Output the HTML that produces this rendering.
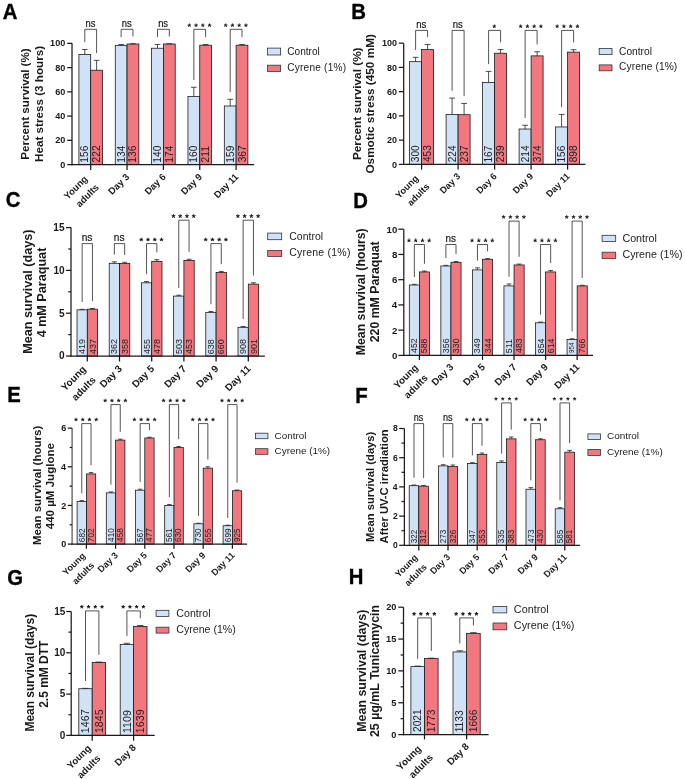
<!DOCTYPE html>
<html><head><meta charset="utf-8"><style>
html,body{margin:0;padding:0;background:#fff;overflow:hidden;}
svg{display:block;will-change:transform;}
text{font-family:"Liberation Sans", sans-serif;}
</style></head><body>
<svg width="685" height="779" viewBox="0 0 685 779">
<rect width="685" height="779" fill="#fff"/>
<defs><path id="st" fill="#111" d="M0.0447,-0.0522 0.1594,-0.1030 0.1926,-0.0068 0.0706,0.0229 0.1614,0.1270 0.0715,0.1860 0.0002,0.0630 -0.0725,0.1860 -0.1633,0.1260 -0.0706,0.0229 -0.1926,-0.0068 -0.1594,-0.1030 -0.0427,-0.0522 -0.0515,-0.1860 0.0535,-0.1860Z"/></defs>
<g>
<text x="0" y="0" font-size="20.3" font-weight="bold" fill="#000" stroke="#000" stroke-width="0.35" transform="translate(2.84 18.7) scale(1 1.065)">A</text>
<rect x="78.9" y="54.42" width="11.8" height="110.18" fill="#cfe2f6" stroke="#111" stroke-width="0.75"/>
<rect x="90.7" y="70.19" width="11.8" height="94.41" fill="#f2777f" stroke="#111" stroke-width="0.75"/>
<line x1="84.8" y1="54.42" x2="84.8" y2="49.56" stroke="#222" stroke-width="0.8"/>
<line x1="81.97" y1="49.56" x2="87.63" y2="49.56" stroke="#222" stroke-width="0.8"/>
<line x1="96.6" y1="70.19" x2="96.6" y2="60.36" stroke="#222" stroke-width="0.8"/>
<line x1="93.77" y1="60.36" x2="99.43" y2="60.36" stroke="#222" stroke-width="0.8"/>
<rect x="115.25" y="45.44" width="11.8" height="119.16" fill="#cfe2f6" stroke="#111" stroke-width="0.75"/>
<rect x="127.05" y="43.99" width="11.8" height="120.61" fill="#f2777f" stroke="#111" stroke-width="0.75"/>
<line x1="121.15" y1="45.44" x2="121.15" y2="44.47" stroke="#222" stroke-width="0.8"/>
<line x1="118.32" y1="44.47" x2="123.98" y2="44.47" stroke="#222" stroke-width="0.8"/>
<line x1="132.95" y1="43.99" x2="132.95" y2="43.74" stroke="#222" stroke-width="0.8"/>
<line x1="130.12" y1="43.74" x2="135.78" y2="43.74" stroke="#222" stroke-width="0.8"/>
<rect x="151.6" y="48.23" width="11.8" height="116.37" fill="#cfe2f6" stroke="#111" stroke-width="0.75"/>
<rect x="163.4" y="43.99" width="11.8" height="120.61" fill="#f2777f" stroke="#111" stroke-width="0.75"/>
<line x1="157.5" y1="48.23" x2="157.5" y2="44.47" stroke="#222" stroke-width="0.8"/>
<line x1="154.67" y1="44.47" x2="160.33" y2="44.47" stroke="#222" stroke-width="0.8"/>
<line x1="169.3" y1="43.99" x2="169.3" y2="43.74" stroke="#222" stroke-width="0.8"/>
<line x1="166.47" y1="43.74" x2="172.13" y2="43.74" stroke="#222" stroke-width="0.8"/>
<rect x="187.95" y="96.39" width="11.8" height="68.21" fill="#cfe2f6" stroke="#111" stroke-width="0.75"/>
<rect x="199.75" y="45.2" width="11.8" height="119.4" fill="#f2777f" stroke="#111" stroke-width="0.75"/>
<line x1="193.85" y1="96.39" x2="193.85" y2="87.29" stroke="#222" stroke-width="0.8"/>
<line x1="191.02" y1="87.29" x2="196.68" y2="87.29" stroke="#222" stroke-width="0.8"/>
<line x1="205.65" y1="45.2" x2="205.65" y2="44.47" stroke="#222" stroke-width="0.8"/>
<line x1="202.82" y1="44.47" x2="208.48" y2="44.47" stroke="#222" stroke-width="0.8"/>
<rect x="224.3" y="105.97" width="11.8" height="58.63" fill="#cfe2f6" stroke="#111" stroke-width="0.75"/>
<rect x="236.1" y="45.2" width="11.8" height="119.4" fill="#f2777f" stroke="#111" stroke-width="0.75"/>
<line x1="230.2" y1="105.97" x2="230.2" y2="99.3" stroke="#222" stroke-width="0.8"/>
<line x1="227.37" y1="99.3" x2="233.03" y2="99.3" stroke="#222" stroke-width="0.8"/>
<line x1="242" y1="45.2" x2="242" y2="44.47" stroke="#222" stroke-width="0.8"/>
<line x1="239.17" y1="44.47" x2="244.83" y2="44.47" stroke="#222" stroke-width="0.8"/>
<text x="88.31" y="162.68" font-size="10.2" fill="#222" transform="rotate(-90 88.31 162.68)">156</text>
<text x="100.16" y="162.41" font-size="10.2" fill="#222" transform="rotate(-90 100.16 162.41)">222</text>
<text x="124.66" y="162.68" font-size="10.2" fill="#222" transform="rotate(-90 124.66 162.68)">134</text>
<text x="136.46" y="162.68" font-size="10.2" fill="#222" transform="rotate(-90 136.46 162.68)">136</text>
<text x="161.01" y="162.68" font-size="10.2" fill="#222" transform="rotate(-90 161.01 162.68)">140</text>
<text x="172.81" y="162.68" font-size="10.2" fill="#222" transform="rotate(-90 172.81 162.68)">174</text>
<text x="197.36" y="162.68" font-size="10.2" fill="#222" transform="rotate(-90 197.36 162.68)">160</text>
<text x="209.21" y="162.41" font-size="10.2" fill="#222" transform="rotate(-90 209.21 162.41)">211</text>
<text x="233.71" y="162.68" font-size="10.2" fill="#222" transform="rotate(-90 233.71 162.68)">159</text>
<text x="245.51" y="162.29" font-size="10.2" fill="#222" transform="rotate(-90 245.51 162.29)">367</text>
<line x1="72" y1="43.35" x2="72" y2="165.22" stroke="#1a1a1a" stroke-width="1.25"/>
<line x1="71.38" y1="164.6" x2="254.2" y2="164.6" stroke="#1a1a1a" stroke-width="1.25"/>
<line x1="67.2" y1="164.6" x2="72" y2="164.6" stroke="#1a1a1a" stroke-width="1.25"/>
<text x="65.27" y="167.73" font-size="9.1" font-weight="bold" text-anchor="end" fill="#1a1a1a">0</text>
<line x1="67.2" y1="140.35" x2="72" y2="140.35" stroke="#1a1a1a" stroke-width="1.25"/>
<text x="65.27" y="143.48" font-size="9.1" font-weight="bold" text-anchor="end" fill="#1a1a1a">20</text>
<line x1="67.2" y1="116.1" x2="72" y2="116.1" stroke="#1a1a1a" stroke-width="1.25"/>
<text x="65.27" y="119.23" font-size="9.1" font-weight="bold" text-anchor="end" fill="#1a1a1a">40</text>
<line x1="67.2" y1="91.85" x2="72" y2="91.85" stroke="#1a1a1a" stroke-width="1.25"/>
<text x="65.27" y="94.98" font-size="9.1" font-weight="bold" text-anchor="end" fill="#1a1a1a">60</text>
<line x1="67.2" y1="67.6" x2="72" y2="67.6" stroke="#1a1a1a" stroke-width="1.25"/>
<text x="65.27" y="70.73" font-size="9.1" font-weight="bold" text-anchor="end" fill="#1a1a1a">80</text>
<line x1="67.2" y1="43.35" x2="72" y2="43.35" stroke="#1a1a1a" stroke-width="1.25"/>
<text x="65.27" y="46.48" font-size="9.1" font-weight="bold" text-anchor="end" fill="#1a1a1a">100</text>
<line x1="90.7" y1="164.6" x2="90.7" y2="169.9" stroke="#1a1a1a" stroke-width="1.25"/>
<text x="88.1" y="179.6" font-size="9.5" font-weight="bold" text-anchor="end" fill="#1a1a1a" transform="rotate(-45 88.1 179.6)">Young</text>
<text x="99.5" y="187.9" font-size="9.5" font-weight="bold" text-anchor="end" fill="#1a1a1a" transform="rotate(-45 99.5 187.9)">adults</text>
<line x1="127.05" y1="164.6" x2="127.05" y2="169.9" stroke="#1a1a1a" stroke-width="1.25"/>
<text x="130.05" y="177.4" font-size="9.5" font-weight="bold" text-anchor="end" fill="#1a1a1a" transform="rotate(-45 130.05 177.4)">Day 3</text>
<line x1="163.4" y1="164.6" x2="163.4" y2="169.9" stroke="#1a1a1a" stroke-width="1.25"/>
<text x="166.4" y="177.4" font-size="9.5" font-weight="bold" text-anchor="end" fill="#1a1a1a" transform="rotate(-45 166.4 177.4)">Day 6</text>
<line x1="199.75" y1="164.6" x2="199.75" y2="169.9" stroke="#1a1a1a" stroke-width="1.25"/>
<text x="202.75" y="177.4" font-size="9.5" font-weight="bold" text-anchor="end" fill="#1a1a1a" transform="rotate(-45 202.75 177.4)">Day 9</text>
<line x1="236.1" y1="164.6" x2="236.1" y2="169.9" stroke="#1a1a1a" stroke-width="1.25"/>
<text x="239.1" y="177.4" font-size="9.5" font-weight="bold" text-anchor="end" fill="#1a1a1a" transform="rotate(-45 239.1 177.4)">Day 11</text>
<polyline points="84.8,42.26 84.8,29.3 96.6,29.3 96.6,53.06" fill="none" stroke="#2a2a2a" stroke-width="0.8"/>
<text x="0" y="0" font-size="9.4" text-anchor="middle" fill="#111" stroke="#111" stroke-width="0.15" transform="translate(90.4 27.1) scale(1 1.15)">ns</text>
<polyline points="121.15,37.17 121.15,29.3 132.95,29.3 132.95,36.44" fill="none" stroke="#2a2a2a" stroke-width="0.8"/>
<text x="0" y="0" font-size="9.4" text-anchor="middle" fill="#111" stroke="#111" stroke-width="0.15" transform="translate(126.75 27.1) scale(1 1.15)">ns</text>
<polyline points="157.5,37.17 157.5,29.3 169.3,29.3 169.3,36.44" fill="none" stroke="#2a2a2a" stroke-width="0.8"/>
<text x="0" y="0" font-size="9.4" text-anchor="middle" fill="#111" stroke="#111" stroke-width="0.15" transform="translate(163.1 27.1) scale(1 1.15)">ns</text>
<polyline points="193.85,79.99 193.85,29.3 205.65,29.3 205.65,37.17" fill="none" stroke="#2a2a2a" stroke-width="0.8"/>
<use href="#st" transform="translate(189.32 25.2) scale(9.3)"/>
<use href="#st" transform="translate(196.07 25.2) scale(9.3)"/>
<use href="#st" transform="translate(202.82 25.2) scale(9.3)"/>
<use href="#st" transform="translate(209.57 25.2) scale(9.3)"/>
<polyline points="230.2,92 230.2,29.3 242,29.3 242,37.17" fill="none" stroke="#2a2a2a" stroke-width="0.8"/>
<use href="#st" transform="translate(225.68 25.2) scale(9.3)"/>
<use href="#st" transform="translate(232.43 25.2) scale(9.3)"/>
<use href="#st" transform="translate(239.18 25.2) scale(9.3)"/>
<use href="#st" transform="translate(245.93 25.2) scale(9.3)"/>
<text x="0" y="0" font-size="11.66" font-weight="bold" fill="#1a1a1a" transform="translate(29.36 159.68) rotate(-90)">Percent survival (%)</text>
<text x="0" y="0" font-size="11.66" font-weight="bold" fill="#1a1a1a" transform="translate(43.46 161.9) rotate(-90)">Heat stress (3 hours)</text>
<rect x="267.5" y="48.1" width="13.1" height="6.9" fill="#cfe2f6" stroke="#333" stroke-width="0.8"/>
<text x="287.29" y="55" font-size="10.1" fill="#222">Control</text>
<rect x="267.5" y="65.2" width="13.1" height="6.3" fill="#f2777f" stroke="#333" stroke-width="0.8"/>
<text x="287.29" y="71" font-size="10.1" fill="#222" letter-spacing="0.21">Cyrene (1%)</text>
</g>
<g>
<text x="0" y="0" font-size="20.3" font-weight="bold" fill="#000" stroke="#000" stroke-width="0.35" transform="translate(351.14 18.95) scale(1 1.065)">B</text>
<rect x="409.6" y="61.7" width="12" height="102.7" fill="#cfe2f6" stroke="#111" stroke-width="0.75"/>
<rect x="421.6" y="49.56" width="12" height="114.84" fill="#f2777f" stroke="#111" stroke-width="0.75"/>
<line x1="415.6" y1="61.7" x2="415.6" y2="57.33" stroke="#222" stroke-width="0.8"/>
<line x1="412.72" y1="57.33" x2="418.48" y2="57.33" stroke="#222" stroke-width="0.8"/>
<line x1="427.6" y1="49.56" x2="427.6" y2="44.47" stroke="#222" stroke-width="0.8"/>
<line x1="424.72" y1="44.47" x2="430.48" y2="44.47" stroke="#222" stroke-width="0.8"/>
<rect x="446.1" y="114.46" width="12" height="49.94" fill="#cfe2f6" stroke="#111" stroke-width="0.75"/>
<rect x="458.1" y="114.7" width="12" height="49.7" fill="#f2777f" stroke="#111" stroke-width="0.75"/>
<line x1="452.1" y1="114.46" x2="452.1" y2="98.09" stroke="#222" stroke-width="0.8"/>
<line x1="449.22" y1="98.09" x2="454.98" y2="98.09" stroke="#222" stroke-width="0.8"/>
<line x1="464.1" y1="114.7" x2="464.1" y2="103.42" stroke="#222" stroke-width="0.8"/>
<line x1="461.22" y1="103.42" x2="466.98" y2="103.42" stroke="#222" stroke-width="0.8"/>
<rect x="482.6" y="82.44" width="12" height="81.96" fill="#cfe2f6" stroke="#111" stroke-width="0.75"/>
<rect x="494.6" y="53.2" width="12" height="111.2" fill="#f2777f" stroke="#111" stroke-width="0.75"/>
<line x1="488.6" y1="82.44" x2="488.6" y2="71.4" stroke="#222" stroke-width="0.8"/>
<line x1="485.72" y1="71.4" x2="491.48" y2="71.4" stroke="#222" stroke-width="0.8"/>
<line x1="500.6" y1="53.2" x2="500.6" y2="49.56" stroke="#222" stroke-width="0.8"/>
<line x1="497.72" y1="49.56" x2="503.48" y2="49.56" stroke="#222" stroke-width="0.8"/>
<rect x="519.1" y="129.02" width="12" height="35.38" fill="#cfe2f6" stroke="#111" stroke-width="0.75"/>
<rect x="531.1" y="55.87" width="12" height="108.53" fill="#f2777f" stroke="#111" stroke-width="0.75"/>
<line x1="525.1" y1="129.02" x2="525.1" y2="125.26" stroke="#222" stroke-width="0.8"/>
<line x1="522.22" y1="125.26" x2="527.98" y2="125.26" stroke="#222" stroke-width="0.8"/>
<line x1="537.1" y1="55.87" x2="537.1" y2="51.75" stroke="#222" stroke-width="0.8"/>
<line x1="534.22" y1="51.75" x2="539.98" y2="51.75" stroke="#222" stroke-width="0.8"/>
<rect x="555.6" y="126.95" width="12" height="37.45" fill="#cfe2f6" stroke="#111" stroke-width="0.75"/>
<rect x="567.6" y="52.11" width="12" height="112.29" fill="#f2777f" stroke="#111" stroke-width="0.75"/>
<line x1="561.6" y1="126.95" x2="561.6" y2="114.46" stroke="#222" stroke-width="0.8"/>
<line x1="558.72" y1="114.46" x2="564.48" y2="114.46" stroke="#222" stroke-width="0.8"/>
<line x1="573.6" y1="52.11" x2="573.6" y2="49.69" stroke="#222" stroke-width="0.8"/>
<line x1="570.72" y1="49.69" x2="576.48" y2="49.69" stroke="#222" stroke-width="0.8"/>
<text x="419.08" y="162.18" font-size="10.1" fill="#222" transform="rotate(-90 419.08 162.18)">300</text>
<text x="431.08" y="162.03" font-size="10.1" fill="#222" transform="rotate(-90 431.08 162.03)">453</text>
<text x="455.63" y="162.31" font-size="10.1" fill="#222" transform="rotate(-90 455.63 162.31)">224</text>
<text x="467.58" y="162.31" font-size="10.1" fill="#222" transform="rotate(-90 467.58 162.31)">237</text>
<text x="492.08" y="162.57" font-size="10.1" fill="#222" transform="rotate(-90 492.08 162.57)">167</text>
<text x="504.08" y="162.31" font-size="10.1" fill="#222" transform="rotate(-90 504.08 162.31)">239</text>
<text x="528.63" y="162.31" font-size="10.1" fill="#222" transform="rotate(-90 528.63 162.31)">214</text>
<text x="540.58" y="162.18" font-size="10.1" fill="#222" transform="rotate(-90 540.58 162.18)">374</text>
<text x="565.08" y="162.57" font-size="10.1" fill="#222" transform="rotate(-90 565.08 162.57)">156</text>
<text x="577.08" y="162.24" font-size="10.1" fill="#222" transform="rotate(-90 577.08 162.24)">898</text>
<line x1="403.7" y1="43.15" x2="403.7" y2="165.03" stroke="#1a1a1a" stroke-width="1.25"/>
<line x1="403.07" y1="164.4" x2="585.5" y2="164.4" stroke="#1a1a1a" stroke-width="1.25"/>
<line x1="398.9" y1="164.4" x2="403.7" y2="164.4" stroke="#1a1a1a" stroke-width="1.25"/>
<text x="397.07" y="167.5" font-size="9" font-weight="bold" text-anchor="end" fill="#1a1a1a">0</text>
<line x1="398.9" y1="140.15" x2="403.7" y2="140.15" stroke="#1a1a1a" stroke-width="1.25"/>
<text x="397.07" y="143.25" font-size="9" font-weight="bold" text-anchor="end" fill="#1a1a1a">20</text>
<line x1="398.9" y1="115.9" x2="403.7" y2="115.9" stroke="#1a1a1a" stroke-width="1.25"/>
<text x="397.07" y="119" font-size="9" font-weight="bold" text-anchor="end" fill="#1a1a1a">40</text>
<line x1="398.9" y1="91.65" x2="403.7" y2="91.65" stroke="#1a1a1a" stroke-width="1.25"/>
<text x="397.07" y="94.75" font-size="9" font-weight="bold" text-anchor="end" fill="#1a1a1a">60</text>
<line x1="398.9" y1="67.4" x2="403.7" y2="67.4" stroke="#1a1a1a" stroke-width="1.25"/>
<text x="397.07" y="70.5" font-size="9" font-weight="bold" text-anchor="end" fill="#1a1a1a">80</text>
<line x1="398.9" y1="43.15" x2="403.7" y2="43.15" stroke="#1a1a1a" stroke-width="1.25"/>
<text x="397.07" y="46.25" font-size="9" font-weight="bold" text-anchor="end" fill="#1a1a1a">100</text>
<line x1="421.6" y1="164.4" x2="421.6" y2="169.6" stroke="#1a1a1a" stroke-width="1.25"/>
<text x="419.07" y="179.04" font-size="9.25" font-weight="bold" text-anchor="end" fill="#1a1a1a" transform="rotate(-45 419.07 179.04)">Young</text>
<text x="430.17" y="187.13" font-size="9.25" font-weight="bold" text-anchor="end" fill="#1a1a1a" transform="rotate(-45 430.17 187.13)">adults</text>
<line x1="458.1" y1="164.4" x2="458.1" y2="169.6" stroke="#1a1a1a" stroke-width="1.25"/>
<text x="461.02" y="176.9" font-size="9.25" font-weight="bold" text-anchor="end" fill="#1a1a1a" transform="rotate(-45 461.02 176.9)">Day 3</text>
<line x1="494.6" y1="164.4" x2="494.6" y2="169.6" stroke="#1a1a1a" stroke-width="1.25"/>
<text x="497.52" y="176.9" font-size="9.25" font-weight="bold" text-anchor="end" fill="#1a1a1a" transform="rotate(-45 497.52 176.9)">Day 6</text>
<line x1="531.1" y1="164.4" x2="531.1" y2="169.6" stroke="#1a1a1a" stroke-width="1.25"/>
<text x="534.02" y="176.9" font-size="9.25" font-weight="bold" text-anchor="end" fill="#1a1a1a" transform="rotate(-45 534.02 176.9)">Day 9</text>
<line x1="567.6" y1="164.4" x2="567.6" y2="169.6" stroke="#1a1a1a" stroke-width="1.25"/>
<text x="570.52" y="176.9" font-size="9.25" font-weight="bold" text-anchor="end" fill="#1a1a1a" transform="rotate(-45 570.52 176.9)">Day 11</text>
<polyline points="415.6,50.03 415.6,30.4 427.6,30.4 427.6,37.17" fill="none" stroke="#2a2a2a" stroke-width="0.8"/>
<text x="0" y="0" font-size="9.5" text-anchor="middle" fill="#111" stroke="#111" stroke-width="0.15" transform="translate(421.3 28.2) scale(1 1.15)">ns</text>
<polyline points="452.1,90.79 452.1,30.4 464.1,30.4 464.1,96.12" fill="none" stroke="#2a2a2a" stroke-width="0.8"/>
<text x="0" y="0" font-size="9.5" text-anchor="middle" fill="#111" stroke="#111" stroke-width="0.15" transform="translate(457.8 28.2) scale(1 1.15)">ns</text>
<polyline points="488.6,64.1 488.6,30.4 500.6,30.4 500.6,42.27" fill="none" stroke="#2a2a2a" stroke-width="0.8"/>
<use href="#st" transform="translate(494.3 26.3) scale(9.4)"/>
<polyline points="525.1,117.96 525.1,30.4 537.1,30.4 537.1,44.45" fill="none" stroke="#2a2a2a" stroke-width="0.8"/>
<use href="#st" transform="translate(520.68 26.3) scale(9.4)"/>
<use href="#st" transform="translate(527.43 26.3) scale(9.4)"/>
<use href="#st" transform="translate(534.18 26.3) scale(9.4)"/>
<use href="#st" transform="translate(540.93 26.3) scale(9.4)"/>
<polyline points="561.6,107.16 561.6,30.4 573.6,30.4 573.6,42.39" fill="none" stroke="#2a2a2a" stroke-width="0.8"/>
<use href="#st" transform="translate(557.18 26.3) scale(9.4)"/>
<use href="#st" transform="translate(563.93 26.3) scale(9.4)"/>
<use href="#st" transform="translate(570.68 26.3) scale(9.4)"/>
<use href="#st" transform="translate(577.43 26.3) scale(9.4)"/>
<text x="0" y="0" font-size="11.79" font-weight="bold" fill="#1a1a1a" transform="translate(361.05 160.1) rotate(-90)">Percent survival (%)</text>
<text x="0" y="0" font-size="11.79" font-weight="bold" fill="#1a1a1a" transform="translate(374.05 173.58) rotate(-90)">Osmotic stress (450 mM)</text>
<rect x="599.2" y="48.4" width="12.8" height="6.2" fill="#cfe2f6" stroke="#333" stroke-width="0.8"/>
<text x="619.08" y="54.6" font-size="10.2" fill="#222">Control</text>
<rect x="599.2" y="64.9" width="12.8" height="5.9" fill="#f2777f" stroke="#333" stroke-width="0.8"/>
<text x="619.08" y="70.3" font-size="10.2" fill="#222" letter-spacing="0.1">Cyrene (1%)</text>
</g>
<g>
<text x="0" y="0" font-size="20.3" font-weight="bold" fill="#000" stroke="#000" stroke-width="0.35" transform="translate(5.77 207.49) scale(1 1.065)">C</text>
<rect x="77" y="309.86" width="10.3" height="46.14" fill="#cfe2f6" stroke="#111" stroke-width="0.75"/>
<rect x="87.3" y="309.18" width="10.3" height="46.82" fill="#f2777f" stroke="#111" stroke-width="0.75"/>
<line x1="82.15" y1="309.86" x2="82.15" y2="309.35" stroke="#222" stroke-width="0.8"/>
<line x1="79.68" y1="309.35" x2="84.62" y2="309.35" stroke="#222" stroke-width="0.8"/>
<line x1="92.45" y1="309.18" x2="92.45" y2="308.49" stroke="#222" stroke-width="0.8"/>
<line x1="89.98" y1="308.49" x2="94.92" y2="308.49" stroke="#222" stroke-width="0.8"/>
<rect x="109.2" y="263.3" width="10.3" height="92.7" fill="#cfe2f6" stroke="#111" stroke-width="0.75"/>
<rect x="119.5" y="263.55" width="10.3" height="92.45" fill="#f2777f" stroke="#111" stroke-width="0.75"/>
<line x1="114.35" y1="263.3" x2="114.35" y2="261.84" stroke="#222" stroke-width="0.8"/>
<line x1="111.88" y1="261.84" x2="116.82" y2="261.84" stroke="#222" stroke-width="0.8"/>
<line x1="124.65" y1="263.55" x2="124.65" y2="262.27" stroke="#222" stroke-width="0.8"/>
<line x1="122.18" y1="262.27" x2="127.12" y2="262.27" stroke="#222" stroke-width="0.8"/>
<rect x="141.4" y="282.81" width="10.3" height="73.19" fill="#cfe2f6" stroke="#111" stroke-width="0.75"/>
<rect x="151.7" y="261.33" width="10.3" height="94.67" fill="#f2777f" stroke="#111" stroke-width="0.75"/>
<line x1="146.55" y1="282.81" x2="146.55" y2="281.53" stroke="#222" stroke-width="0.8"/>
<line x1="144.08" y1="281.53" x2="149.02" y2="281.53" stroke="#222" stroke-width="0.8"/>
<line x1="156.85" y1="261.33" x2="156.85" y2="259.7" stroke="#222" stroke-width="0.8"/>
<line x1="154.38" y1="259.7" x2="159.32" y2="259.7" stroke="#222" stroke-width="0.8"/>
<rect x="173.6" y="296.08" width="10.3" height="59.92" fill="#cfe2f6" stroke="#111" stroke-width="0.75"/>
<rect x="183.9" y="260.38" width="10.3" height="95.62" fill="#f2777f" stroke="#111" stroke-width="0.75"/>
<line x1="178.75" y1="296.08" x2="178.75" y2="295.22" stroke="#222" stroke-width="0.8"/>
<line x1="176.28" y1="295.22" x2="181.22" y2="295.22" stroke="#222" stroke-width="0.8"/>
<line x1="189.05" y1="260.38" x2="189.05" y2="259.27" stroke="#222" stroke-width="0.8"/>
<line x1="186.58" y1="259.27" x2="191.52" y2="259.27" stroke="#222" stroke-width="0.8"/>
<rect x="205.8" y="312.34" width="10.3" height="43.66" fill="#cfe2f6" stroke="#111" stroke-width="0.75"/>
<rect x="216.1" y="272.54" width="10.3" height="83.46" fill="#f2777f" stroke="#111" stroke-width="0.75"/>
<line x1="210.95" y1="312.34" x2="210.95" y2="311.49" stroke="#222" stroke-width="0.8"/>
<line x1="208.48" y1="311.49" x2="213.42" y2="311.49" stroke="#222" stroke-width="0.8"/>
<line x1="221.25" y1="272.54" x2="221.25" y2="271.43" stroke="#222" stroke-width="0.8"/>
<line x1="218.78" y1="271.43" x2="223.72" y2="271.43" stroke="#222" stroke-width="0.8"/>
<rect x="238" y="327.32" width="10.3" height="28.68" fill="#cfe2f6" stroke="#111" stroke-width="0.75"/>
<rect x="248.3" y="284.1" width="10.3" height="71.9" fill="#f2777f" stroke="#111" stroke-width="0.75"/>
<line x1="243.15" y1="327.32" x2="243.15" y2="326.47" stroke="#222" stroke-width="0.8"/>
<line x1="240.68" y1="326.47" x2="245.62" y2="326.47" stroke="#222" stroke-width="0.8"/>
<line x1="253.45" y1="284.1" x2="253.45" y2="282.81" stroke="#222" stroke-width="0.8"/>
<line x1="250.98" y1="282.81" x2="255.92" y2="282.81" stroke="#222" stroke-width="0.8"/>
<text x="85.25" y="353.91" font-size="9" fill="#222" transform="rotate(-90 85.25 353.91)">419</text>
<text x="95.55" y="353.91" font-size="9" fill="#222" transform="rotate(-90 95.55 353.91)">437</text>
<text x="117.45" y="354.04" font-size="9" fill="#222" transform="rotate(-90 117.45 354.04)">362</text>
<text x="127.75" y="354.04" font-size="9" fill="#222" transform="rotate(-90 127.75 354.04)">358</text>
<text x="149.6" y="353.91" font-size="9" fill="#222" transform="rotate(-90 149.6 353.91)">455</text>
<text x="159.95" y="353.91" font-size="9" fill="#222" transform="rotate(-90 159.95 353.91)">478</text>
<text x="181.85" y="354.06" font-size="9" fill="#222" transform="rotate(-90 181.85 354.06)">503</text>
<text x="192.15" y="353.91" font-size="9" fill="#222" transform="rotate(-90 192.15 353.91)">453</text>
<text x="214.05" y="354.16" font-size="9" fill="#222" transform="rotate(-90 214.05 354.16)">638</text>
<text x="224.35" y="354.16" font-size="9" fill="#222" transform="rotate(-90 224.35 354.16)">660</text>
<text x="246.25" y="354.12" font-size="9" fill="#222" transform="rotate(-90 246.25 354.12)">908</text>
<text x="256.55" y="354.12" font-size="9" fill="#222" transform="rotate(-90 256.55 354.12)">901</text>
<line x1="71" y1="227.6" x2="71" y2="356.62" stroke="#1a1a1a" stroke-width="1.25"/>
<line x1="70.38" y1="356" x2="264.9" y2="356" stroke="#1a1a1a" stroke-width="1.25"/>
<line x1="66" y1="356" x2="71" y2="356" stroke="#1a1a1a" stroke-width="1.25"/>
<text x="64.71" y="359.48" font-size="10.1" font-weight="bold" text-anchor="end" fill="#1a1a1a">0</text>
<line x1="66" y1="313.2" x2="71" y2="313.2" stroke="#1a1a1a" stroke-width="1.25"/>
<text x="64.58" y="316.63" font-size="10.1" font-weight="bold" text-anchor="end" fill="#1a1a1a">5</text>
<line x1="66" y1="270.4" x2="71" y2="270.4" stroke="#1a1a1a" stroke-width="1.25"/>
<text x="64.71" y="273.88" font-size="10.1" font-weight="bold" text-anchor="end" fill="#1a1a1a">10</text>
<line x1="66" y1="227.6" x2="71" y2="227.6" stroke="#1a1a1a" stroke-width="1.25"/>
<text x="64.58" y="231.03" font-size="10.1" font-weight="bold" text-anchor="end" fill="#1a1a1a">15</text>
<line x1="68.25" y1="334.6" x2="71" y2="334.6" stroke="#1a1a1a" stroke-width="1.25"/>
<line x1="68.25" y1="291.8" x2="71" y2="291.8" stroke="#1a1a1a" stroke-width="1.25"/>
<line x1="68.25" y1="249" x2="71" y2="249" stroke="#1a1a1a" stroke-width="1.25"/>
<line x1="87.3" y1="356" x2="87.3" y2="361.5" stroke="#1a1a1a" stroke-width="1.25"/>
<text x="86.67" y="369.92" font-size="10" font-weight="bold" text-anchor="end" fill="#1a1a1a" transform="rotate(-45 86.67 369.92)">Young</text>
<text x="96.56" y="380.45" font-size="10" font-weight="bold" text-anchor="end" fill="#1a1a1a" transform="rotate(-45 96.56 380.45)">adults</text>
<line x1="119.5" y1="356" x2="119.5" y2="361.5" stroke="#1a1a1a" stroke-width="1.25"/>
<text x="122.66" y="369.39" font-size="10" font-weight="bold" text-anchor="end" fill="#1a1a1a" transform="rotate(-45 122.66 369.39)">Day 3</text>
<line x1="151.7" y1="356" x2="151.7" y2="361.5" stroke="#1a1a1a" stroke-width="1.25"/>
<text x="154.86" y="369.39" font-size="10" font-weight="bold" text-anchor="end" fill="#1a1a1a" transform="rotate(-45 154.86 369.39)">Day 5</text>
<line x1="183.9" y1="356" x2="183.9" y2="361.5" stroke="#1a1a1a" stroke-width="1.25"/>
<text x="187.06" y="369.39" font-size="10" font-weight="bold" text-anchor="end" fill="#1a1a1a" transform="rotate(-45 187.06 369.39)">Day 7</text>
<line x1="216.1" y1="356" x2="216.1" y2="361.5" stroke="#1a1a1a" stroke-width="1.25"/>
<text x="219.26" y="369.39" font-size="10" font-weight="bold" text-anchor="end" fill="#1a1a1a" transform="rotate(-45 219.26 369.39)">Day 9</text>
<line x1="248.3" y1="356" x2="248.3" y2="361.5" stroke="#1a1a1a" stroke-width="1.25"/>
<text x="251.46" y="369.39" font-size="10" font-weight="bold" text-anchor="end" fill="#1a1a1a" transform="rotate(-45 251.46 369.39)">Day 11</text>
<polyline points="82.15,302.05 82.15,243.6 92.45,243.6 92.45,301.19" fill="none" stroke="#2a2a2a" stroke-width="0.8"/>
<text x="0" y="0" font-size="10.16" text-anchor="middle" fill="#111" stroke="#111" stroke-width="0.15" transform="translate(87 241.4) scale(1 1.15)">ns</text>
<polyline points="114.35,254.54 114.35,243.6 124.65,243.6 124.65,254.97" fill="none" stroke="#2a2a2a" stroke-width="0.8"/>
<text x="0" y="0" font-size="10.16" text-anchor="middle" fill="#111" stroke="#111" stroke-width="0.15" transform="translate(119.2 241.4) scale(1 1.15)">ns</text>
<polyline points="146.55,274.23 146.55,243.6 156.85,243.6 156.85,252.4" fill="none" stroke="#2a2a2a" stroke-width="0.8"/>
<use href="#st" transform="translate(141.27 239.5) scale(10.05)"/>
<use href="#st" transform="translate(148.02 239.5) scale(10.05)"/>
<use href="#st" transform="translate(154.77 239.5) scale(10.05)"/>
<use href="#st" transform="translate(161.52 239.5) scale(10.05)"/>
<polyline points="178.75,287.92 178.75,220.2 189.05,220.2 189.05,251.97" fill="none" stroke="#2a2a2a" stroke-width="0.8"/>
<use href="#st" transform="translate(173.47 216.1) scale(10.05)"/>
<use href="#st" transform="translate(180.22 216.1) scale(10.05)"/>
<use href="#st" transform="translate(186.97 216.1) scale(10.05)"/>
<use href="#st" transform="translate(193.72 216.1) scale(10.05)"/>
<polyline points="210.95,304.19 210.95,243.6 221.25,243.6 221.25,264.13" fill="none" stroke="#2a2a2a" stroke-width="0.8"/>
<use href="#st" transform="translate(205.68 239.5) scale(10.05)"/>
<use href="#st" transform="translate(212.43 239.5) scale(10.05)"/>
<use href="#st" transform="translate(219.18 239.5) scale(10.05)"/>
<use href="#st" transform="translate(225.93 239.5) scale(10.05)"/>
<polyline points="243.15,319.17 243.15,220.2 253.45,220.2 253.45,275.51" fill="none" stroke="#2a2a2a" stroke-width="0.8"/>
<use href="#st" transform="translate(237.88 216.1) scale(10.05)"/>
<use href="#st" transform="translate(244.62 216.1) scale(10.05)"/>
<use href="#st" transform="translate(251.38 216.1) scale(10.05)"/>
<use href="#st" transform="translate(258.12 216.1) scale(10.05)"/>
<text x="0" y="0" font-size="12.61" font-weight="bold" fill="#1a1a1a" transform="translate(32.06 353.68) rotate(-90)">Mean survival (days)</text>
<text x="0" y="0" font-size="12.61" font-weight="bold" fill="#1a1a1a" transform="translate(46.23 337.37) rotate(-90)">4 mM Paraquat</text>
<rect x="267.7" y="233.1" width="14" height="6.6" fill="#cfe2f6" stroke="#333" stroke-width="0.8"/>
<text x="289.27" y="239.7" font-size="10.5" fill="#222">Control</text>
<rect x="267.7" y="250.5" width="14" height="6" fill="#f2777f" stroke="#333" stroke-width="0.8"/>
<text x="289.27" y="256" font-size="10.5" fill="#222" letter-spacing="0.22">Cyrene (1%)</text>
</g>
<g>
<text x="0" y="0" font-size="20.3" font-weight="bold" fill="#000" stroke="#000" stroke-width="0.35" transform="translate(353.34 207.7) scale(1 1.065)">D</text>
<rect x="409.3" y="284.99" width="10.1" height="70.41" fill="#cfe2f6" stroke="#111" stroke-width="0.75"/>
<rect x="419.4" y="271.93" width="10.1" height="83.47" fill="#f2777f" stroke="#111" stroke-width="0.75"/>
<line x1="414.35" y1="284.99" x2="414.35" y2="284.36" stroke="#222" stroke-width="0.8"/>
<line x1="411.93" y1="284.36" x2="416.77" y2="284.36" stroke="#222" stroke-width="0.8"/>
<line x1="424.45" y1="271.93" x2="424.45" y2="271.04" stroke="#222" stroke-width="0.8"/>
<line x1="422.03" y1="271.04" x2="426.87" y2="271.04" stroke="#222" stroke-width="0.8"/>
<rect x="440.85" y="265.97" width="10.1" height="89.43" fill="#cfe2f6" stroke="#111" stroke-width="0.75"/>
<rect x="450.95" y="262.29" width="10.1" height="93.11" fill="#f2777f" stroke="#111" stroke-width="0.75"/>
<line x1="445.9" y1="265.97" x2="445.9" y2="265.34" stroke="#222" stroke-width="0.8"/>
<line x1="443.48" y1="265.34" x2="448.32" y2="265.34" stroke="#222" stroke-width="0.8"/>
<line x1="456" y1="262.29" x2="456" y2="261.53" stroke="#222" stroke-width="0.8"/>
<line x1="453.58" y1="261.53" x2="458.42" y2="261.53" stroke="#222" stroke-width="0.8"/>
<rect x="472.4" y="269.9" width="10.1" height="85.5" fill="#cfe2f6" stroke="#111" stroke-width="0.75"/>
<rect x="482.5" y="259.25" width="10.1" height="96.15" fill="#f2777f" stroke="#111" stroke-width="0.75"/>
<line x1="477.45" y1="269.9" x2="477.45" y2="267.87" stroke="#222" stroke-width="0.8"/>
<line x1="475.03" y1="267.87" x2="479.87" y2="267.87" stroke="#222" stroke-width="0.8"/>
<line x1="487.55" y1="259.25" x2="487.55" y2="258.62" stroke="#222" stroke-width="0.8"/>
<line x1="485.13" y1="258.62" x2="489.97" y2="258.62" stroke="#222" stroke-width="0.8"/>
<rect x="503.95" y="285.88" width="10.1" height="69.52" fill="#cfe2f6" stroke="#111" stroke-width="0.75"/>
<rect x="514.05" y="264.96" width="10.1" height="90.44" fill="#f2777f" stroke="#111" stroke-width="0.75"/>
<line x1="509" y1="285.88" x2="509" y2="283.98" stroke="#222" stroke-width="0.8"/>
<line x1="506.58" y1="283.98" x2="511.42" y2="283.98" stroke="#222" stroke-width="0.8"/>
<line x1="519.1" y1="264.96" x2="519.1" y2="264.07" stroke="#222" stroke-width="0.8"/>
<line x1="516.68" y1="264.07" x2="521.52" y2="264.07" stroke="#222" stroke-width="0.8"/>
<rect x="535.5" y="322.78" width="10.1" height="32.62" fill="#cfe2f6" stroke="#111" stroke-width="0.75"/>
<rect x="545.6" y="271.93" width="10.1" height="83.47" fill="#f2777f" stroke="#111" stroke-width="0.75"/>
<line x1="540.55" y1="322.78" x2="540.55" y2="322.02" stroke="#222" stroke-width="0.8"/>
<line x1="538.13" y1="322.02" x2="542.97" y2="322.02" stroke="#222" stroke-width="0.8"/>
<line x1="550.65" y1="271.93" x2="550.65" y2="270.41" stroke="#222" stroke-width="0.8"/>
<line x1="548.23" y1="270.41" x2="553.07" y2="270.41" stroke="#222" stroke-width="0.8"/>
<rect x="567.05" y="339.52" width="10.1" height="15.88" fill="#cfe2f6" stroke="#111" stroke-width="0.75"/>
<rect x="577.15" y="285.88" width="10.1" height="69.52" fill="#f2777f" stroke="#111" stroke-width="0.75"/>
<line x1="572.1" y1="339.52" x2="572.1" y2="338.76" stroke="#222" stroke-width="0.8"/>
<line x1="569.68" y1="338.76" x2="574.52" y2="338.76" stroke="#222" stroke-width="0.8"/>
<line x1="582.2" y1="285.88" x2="582.2" y2="285.25" stroke="#222" stroke-width="0.8"/>
<line x1="579.78" y1="285.25" x2="584.62" y2="285.25" stroke="#222" stroke-width="0.8"/>
<text x="417.38" y="353" font-size="8.8" fill="#222" transform="rotate(-90 417.38 353)">452</text>
<text x="427.48" y="353.15" font-size="8.8" fill="#222" transform="rotate(-90 427.48 353.15)">588</text>
<text x="448.93" y="353.14" font-size="8.8" fill="#222" transform="rotate(-90 448.93 353.14)">356</text>
<text x="459.03" y="353.14" font-size="8.8" fill="#222" transform="rotate(-90 459.03 353.14)">330</text>
<text x="480.48" y="353.14" font-size="8.8" fill="#222" transform="rotate(-90 480.48 353.14)">349</text>
<text x="490.58" y="353.14" font-size="8.8" fill="#222" transform="rotate(-90 490.58 353.14)">344</text>
<text x="511.98" y="353.15" font-size="8.8" fill="#222" transform="rotate(-90 511.98 353.15)">511</text>
<text x="522.13" y="353" font-size="8.8" fill="#222" transform="rotate(-90 522.13 353)">483</text>
<text x="543.58" y="353.18" font-size="8.8" fill="#222" transform="rotate(-90 543.58 353.18)">854</text>
<text x="553.68" y="353.25" font-size="8.8" fill="#222" transform="rotate(-90 553.68 353.25)">614</text>
<text x="574.27" y="353.1" font-size="6.3" fill="#222" transform="rotate(-90 574.27 353.1)">954</text>
<text x="585.23" y="353.25" font-size="8.8" fill="#222" transform="rotate(-90 585.23 353.25)">766</text>
<line x1="403.8" y1="229.2" x2="403.8" y2="356.02" stroke="#1a1a1a" stroke-width="1.25"/>
<line x1="403.18" y1="355.4" x2="593" y2="355.4" stroke="#1a1a1a" stroke-width="1.25"/>
<line x1="398.3" y1="355.4" x2="403.8" y2="355.4" stroke="#1a1a1a" stroke-width="1.25"/>
<text x="397.4" y="358.74" font-size="9.7" font-weight="bold" text-anchor="end" fill="#1a1a1a">0</text>
<line x1="398.3" y1="330.16" x2="403.8" y2="330.16" stroke="#1a1a1a" stroke-width="1.25"/>
<text x="397.39" y="333.55" font-size="9.7" font-weight="bold" text-anchor="end" fill="#1a1a1a">2</text>
<line x1="398.3" y1="304.92" x2="403.8" y2="304.92" stroke="#1a1a1a" stroke-width="1.25"/>
<text x="397.05" y="308.26" font-size="9.7" font-weight="bold" text-anchor="end" fill="#1a1a1a">4</text>
<line x1="398.3" y1="279.68" x2="403.8" y2="279.68" stroke="#1a1a1a" stroke-width="1.25"/>
<text x="397.35" y="283.02" font-size="9.7" font-weight="bold" text-anchor="end" fill="#1a1a1a">6</text>
<line x1="398.3" y1="254.44" x2="403.8" y2="254.44" stroke="#1a1a1a" stroke-width="1.25"/>
<text x="397.3" y="257.78" font-size="9.7" font-weight="bold" text-anchor="end" fill="#1a1a1a">8</text>
<line x1="398.3" y1="229.2" x2="403.8" y2="229.2" stroke="#1a1a1a" stroke-width="1.25"/>
<text x="397.4" y="232.54" font-size="9.7" font-weight="bold" text-anchor="end" fill="#1a1a1a">10</text>
<line x1="419.4" y1="355.4" x2="419.4" y2="359.9" stroke="#1a1a1a" stroke-width="1.25"/>
<text x="418.78" y="368.15" font-size="9.8" font-weight="bold" text-anchor="end" fill="#1a1a1a" transform="rotate(-45 418.78 368.15)">Young</text>
<text x="428.48" y="378.47" font-size="9.8" font-weight="bold" text-anchor="end" fill="#1a1a1a" transform="rotate(-45 428.48 378.47)">adults</text>
<line x1="450.95" y1="355.4" x2="450.95" y2="359.9" stroke="#1a1a1a" stroke-width="1.25"/>
<text x="454.04" y="367.64" font-size="9.8" font-weight="bold" text-anchor="end" fill="#1a1a1a" transform="rotate(-45 454.04 367.64)">Day 3</text>
<line x1="482.5" y1="355.4" x2="482.5" y2="359.9" stroke="#1a1a1a" stroke-width="1.25"/>
<text x="485.59" y="367.64" font-size="9.8" font-weight="bold" text-anchor="end" fill="#1a1a1a" transform="rotate(-45 485.59 367.64)">Day 5</text>
<line x1="514.05" y1="355.4" x2="514.05" y2="359.9" stroke="#1a1a1a" stroke-width="1.25"/>
<text x="517.14" y="367.64" font-size="9.8" font-weight="bold" text-anchor="end" fill="#1a1a1a" transform="rotate(-45 517.14 367.64)">Day 7</text>
<line x1="545.6" y1="355.4" x2="545.6" y2="359.9" stroke="#1a1a1a" stroke-width="1.25"/>
<text x="548.69" y="367.64" font-size="9.8" font-weight="bold" text-anchor="end" fill="#1a1a1a" transform="rotate(-45 548.69 367.64)">Day 9</text>
<line x1="577.15" y1="355.4" x2="577.15" y2="359.9" stroke="#1a1a1a" stroke-width="1.25"/>
<text x="580.24" y="367.64" font-size="9.8" font-weight="bold" text-anchor="end" fill="#1a1a1a" transform="rotate(-45 580.24 367.64)">Day 11</text>
<polyline points="414.35,277.06 414.35,244.5 424.45,244.5 424.45,263.74" fill="none" stroke="#2a2a2a" stroke-width="0.8"/>
<use href="#st" transform="translate(408.97 240.4) scale(9.78)"/>
<use href="#st" transform="translate(415.72 240.4) scale(9.78)"/>
<use href="#st" transform="translate(422.47 240.4) scale(9.78)"/>
<use href="#st" transform="translate(429.22 240.4) scale(9.78)"/>
<polyline points="445.9,258.04 445.9,244.5 456,244.5 456,254.23" fill="none" stroke="#2a2a2a" stroke-width="0.8"/>
<text x="0" y="0" font-size="9.89" text-anchor="middle" fill="#111" stroke="#111" stroke-width="0.15" transform="translate(450.65 242.3) scale(1 1.15)">ns</text>
<polyline points="477.45,260.57 477.45,244.5 487.55,244.5 487.55,251.32" fill="none" stroke="#2a2a2a" stroke-width="0.8"/>
<use href="#st" transform="translate(472.07 240.4) scale(9.78)"/>
<use href="#st" transform="translate(478.82 240.4) scale(9.78)"/>
<use href="#st" transform="translate(485.57 240.4) scale(9.78)"/>
<use href="#st" transform="translate(492.32 240.4) scale(9.78)"/>
<polyline points="509,276.68 509,221.1 519.1,221.1 519.1,256.77" fill="none" stroke="#2a2a2a" stroke-width="0.8"/>
<use href="#st" transform="translate(503.62 217) scale(9.78)"/>
<use href="#st" transform="translate(510.38 217) scale(9.78)"/>
<use href="#st" transform="translate(517.12 217) scale(9.78)"/>
<use href="#st" transform="translate(523.88 217) scale(9.78)"/>
<polyline points="540.55,314.72 540.55,244.5 550.65,244.5 550.65,263.11" fill="none" stroke="#2a2a2a" stroke-width="0.8"/>
<use href="#st" transform="translate(535.18 240.4) scale(9.78)"/>
<use href="#st" transform="translate(541.93 240.4) scale(9.78)"/>
<use href="#st" transform="translate(548.68 240.4) scale(9.78)"/>
<use href="#st" transform="translate(555.43 240.4) scale(9.78)"/>
<polyline points="572.1,331.46 572.1,221.1 582.2,221.1 582.2,277.95" fill="none" stroke="#2a2a2a" stroke-width="0.8"/>
<use href="#st" transform="translate(566.73 217) scale(9.78)"/>
<use href="#st" transform="translate(573.48 217) scale(9.78)"/>
<use href="#st" transform="translate(580.23 217) scale(9.78)"/>
<use href="#st" transform="translate(586.98 217) scale(9.78)"/>
<text x="0" y="0" font-size="12.27" font-weight="bold" fill="#1a1a1a" transform="translate(365.12 355.17) rotate(-90)">Mean survival (hours)</text>
<text x="0" y="0" font-size="12.27" font-weight="bold" fill="#1a1a1a" transform="translate(379.31 342.2) rotate(-90)">220 mM Paraquat</text>
<rect x="602.1" y="235.3" width="13.6" height="6.2" fill="#cfe2f6" stroke="#333" stroke-width="0.8"/>
<text x="622.46" y="241.5" font-size="10.7" fill="#222">Control</text>
<rect x="602.1" y="252.2" width="13.6" height="6.2" fill="#f2777f" stroke="#333" stroke-width="0.8"/>
<text x="622.46" y="257.9" font-size="10.7" fill="#222">Cyrene (1%)</text>
</g>
<g>
<text x="0" y="0" font-size="20.3" font-weight="bold" fill="#000" stroke="#000" stroke-width="0.35" transform="translate(7.24 402.2) scale(1 1.065)">E</text>
<rect x="77.1" y="501.57" width="9.3" height="42.53" fill="#cfe2f6" stroke="#111" stroke-width="0.75"/>
<rect x="86.4" y="473.93" width="9.3" height="70.17" fill="#f2777f" stroke="#111" stroke-width="0.75"/>
<line x1="81.75" y1="501.57" x2="81.75" y2="500.61" stroke="#222" stroke-width="0.8"/>
<line x1="79.52" y1="500.61" x2="83.98" y2="500.61" stroke="#222" stroke-width="0.8"/>
<line x1="91.05" y1="473.93" x2="91.05" y2="472.58" stroke="#222" stroke-width="0.8"/>
<line x1="88.82" y1="472.58" x2="93.28" y2="472.58" stroke="#222" stroke-width="0.8"/>
<rect x="106.3" y="492.88" width="9.3" height="51.22" fill="#cfe2f6" stroke="#111" stroke-width="0.75"/>
<rect x="115.6" y="440.1" width="9.3" height="104" fill="#f2777f" stroke="#111" stroke-width="0.75"/>
<line x1="110.95" y1="492.88" x2="110.95" y2="491.91" stroke="#222" stroke-width="0.8"/>
<line x1="108.72" y1="491.91" x2="113.18" y2="491.91" stroke="#222" stroke-width="0.8"/>
<line x1="120.25" y1="440.1" x2="120.25" y2="439.14" stroke="#222" stroke-width="0.8"/>
<line x1="118.02" y1="439.14" x2="122.48" y2="439.14" stroke="#222" stroke-width="0.8"/>
<rect x="135.5" y="490.17" width="9.3" height="53.93" fill="#cfe2f6" stroke="#111" stroke-width="0.75"/>
<rect x="144.8" y="437.98" width="9.3" height="106.12" fill="#f2777f" stroke="#111" stroke-width="0.75"/>
<line x1="140.15" y1="490.17" x2="140.15" y2="489.2" stroke="#222" stroke-width="0.8"/>
<line x1="137.92" y1="489.2" x2="142.38" y2="489.2" stroke="#222" stroke-width="0.8"/>
<line x1="149.45" y1="437.98" x2="149.45" y2="437.21" stroke="#222" stroke-width="0.8"/>
<line x1="147.22" y1="437.21" x2="151.68" y2="437.21" stroke="#222" stroke-width="0.8"/>
<rect x="164.7" y="505.44" width="9.3" height="38.66" fill="#cfe2f6" stroke="#111" stroke-width="0.75"/>
<rect x="174" y="447.45" width="9.3" height="96.65" fill="#f2777f" stroke="#111" stroke-width="0.75"/>
<line x1="169.35" y1="505.44" x2="169.35" y2="504.47" stroke="#222" stroke-width="0.8"/>
<line x1="167.12" y1="504.47" x2="171.58" y2="504.47" stroke="#222" stroke-width="0.8"/>
<line x1="178.65" y1="447.45" x2="178.65" y2="446.48" stroke="#222" stroke-width="0.8"/>
<line x1="176.42" y1="446.48" x2="180.88" y2="446.48" stroke="#222" stroke-width="0.8"/>
<rect x="193.9" y="523.8" width="9.3" height="20.3" fill="#cfe2f6" stroke="#111" stroke-width="0.75"/>
<rect x="203.2" y="468.13" width="9.3" height="75.97" fill="#f2777f" stroke="#111" stroke-width="0.75"/>
<line x1="198.55" y1="523.8" x2="198.55" y2="523.22" stroke="#222" stroke-width="0.8"/>
<line x1="196.32" y1="523.22" x2="200.78" y2="523.22" stroke="#222" stroke-width="0.8"/>
<line x1="207.85" y1="468.13" x2="207.85" y2="466.78" stroke="#222" stroke-width="0.8"/>
<line x1="205.62" y1="466.78" x2="210.08" y2="466.78" stroke="#222" stroke-width="0.8"/>
<rect x="223.1" y="525.74" width="9.3" height="18.36" fill="#cfe2f6" stroke="#111" stroke-width="0.75"/>
<rect x="232.4" y="490.75" width="9.3" height="53.35" fill="#f2777f" stroke="#111" stroke-width="0.75"/>
<line x1="227.75" y1="525.74" x2="227.75" y2="525.16" stroke="#222" stroke-width="0.8"/>
<line x1="225.52" y1="525.16" x2="229.98" y2="525.16" stroke="#222" stroke-width="0.8"/>
<line x1="237.05" y1="490.75" x2="237.05" y2="489.98" stroke="#222" stroke-width="0.8"/>
<line x1="234.82" y1="489.98" x2="239.28" y2="489.98" stroke="#222" stroke-width="0.8"/>
<text x="84.57" y="542.12" font-size="8.2" fill="#222" transform="rotate(-90 84.57 542.12)">682</text>
<text x="93.87" y="542.12" font-size="8.2" fill="#222" transform="rotate(-90 93.87 542.12)">702</text>
<text x="113.77" y="541.89" font-size="8.2" fill="#222" transform="rotate(-90 113.77 541.89)">410</text>
<text x="123.07" y="541.89" font-size="8.2" fill="#222" transform="rotate(-90 123.07 541.89)">458</text>
<text x="142.97" y="542.03" font-size="8.2" fill="#222" transform="rotate(-90 142.97 542.03)">567</text>
<text x="152.27" y="541.89" font-size="8.2" fill="#222" transform="rotate(-90 152.27 541.89)">477</text>
<text x="172.17" y="542.03" font-size="8.2" fill="#222" transform="rotate(-90 172.17 542.03)">561</text>
<text x="181.47" y="542.12" font-size="8.2" fill="#222" transform="rotate(-90 181.47 542.12)">630</text>
<text x="201.37" y="542.12" font-size="8.2" fill="#222" transform="rotate(-90 201.37 542.12)">730</text>
<text x="210.67" y="542.12" font-size="8.2" fill="#222" transform="rotate(-90 210.67 542.12)">655</text>
<text x="230.57" y="542.12" font-size="8.2" fill="#222" transform="rotate(-90 230.57 542.12)">699</text>
<text x="239.87" y="542.08" font-size="8.2" fill="#222" transform="rotate(-90 239.87 542.08)">925</text>
<line x1="72.1" y1="428.12" x2="72.1" y2="544.73" stroke="#555" stroke-width="1.25"/>
<line x1="71.47" y1="544.1" x2="247.1" y2="544.1" stroke="#1a1a1a" stroke-width="1.25"/>
<line x1="67.8" y1="544.1" x2="72.1" y2="544.1" stroke="#1a1a1a" stroke-width="1.25"/>
<text x="66.37" y="547.2" font-size="9" font-weight="bold" text-anchor="end" fill="#1a1a1a">0</text>
<line x1="67.8" y1="505.44" x2="72.1" y2="505.44" stroke="#1a1a1a" stroke-width="1.25"/>
<text x="66.36" y="508.58" font-size="9" font-weight="bold" text-anchor="end" fill="#1a1a1a">2</text>
<line x1="67.8" y1="466.78" x2="72.1" y2="466.78" stroke="#1a1a1a" stroke-width="1.25"/>
<text x="66.05" y="469.88" font-size="9" font-weight="bold" text-anchor="end" fill="#1a1a1a">4</text>
<line x1="67.8" y1="428.12" x2="72.1" y2="428.12" stroke="#1a1a1a" stroke-width="1.25"/>
<text x="66.33" y="431.22" font-size="9" font-weight="bold" text-anchor="end" fill="#1a1a1a">6</text>
<line x1="69.73" y1="524.77" x2="72.1" y2="524.77" stroke="#1a1a1a" stroke-width="1.25"/>
<line x1="69.73" y1="486.11" x2="72.1" y2="486.11" stroke="#1a1a1a" stroke-width="1.25"/>
<line x1="69.73" y1="447.45" x2="72.1" y2="447.45" stroke="#1a1a1a" stroke-width="1.25"/>
<line x1="86.4" y1="544.1" x2="86.4" y2="548.7" stroke="#1a1a1a" stroke-width="1.25"/>
<text x="85.83" y="556.36" font-size="9.1" font-weight="bold" text-anchor="end" fill="#1a1a1a" transform="rotate(-45 85.83 556.36)">Young</text>
<text x="94.83" y="565.94" font-size="9.1" font-weight="bold" text-anchor="end" fill="#1a1a1a" transform="rotate(-45 94.83 565.94)">adults</text>
<line x1="115.6" y1="544.1" x2="115.6" y2="548.7" stroke="#1a1a1a" stroke-width="1.25"/>
<text x="118.47" y="555.88" font-size="9.1" font-weight="bold" text-anchor="end" fill="#1a1a1a" transform="rotate(-45 118.47 555.88)">Day 3</text>
<line x1="144.8" y1="544.1" x2="144.8" y2="548.7" stroke="#1a1a1a" stroke-width="1.25"/>
<text x="147.67" y="555.88" font-size="9.1" font-weight="bold" text-anchor="end" fill="#1a1a1a" transform="rotate(-45 147.67 555.88)">Day 5</text>
<line x1="174" y1="544.1" x2="174" y2="548.7" stroke="#1a1a1a" stroke-width="1.25"/>
<text x="176.87" y="555.88" font-size="9.1" font-weight="bold" text-anchor="end" fill="#1a1a1a" transform="rotate(-45 176.87 555.88)">Day 7</text>
<line x1="203.2" y1="544.1" x2="203.2" y2="548.7" stroke="#1a1a1a" stroke-width="1.25"/>
<text x="206.07" y="555.88" font-size="9.1" font-weight="bold" text-anchor="end" fill="#1a1a1a" transform="rotate(-45 206.07 555.88)">Day 9</text>
<line x1="232.4" y1="544.1" x2="232.4" y2="548.7" stroke="#1a1a1a" stroke-width="1.25"/>
<text x="235.27" y="555.88" font-size="9.1" font-weight="bold" text-anchor="end" fill="#1a1a1a" transform="rotate(-45 235.27 555.88)">Day 11</text>
<polyline points="81.75,493.31 81.75,423.6 91.05,423.6 91.05,465.28" fill="none" stroke="#2a2a2a" stroke-width="0.8"/>
<use href="#st" transform="translate(75.98 419.5) scale(9.21)"/>
<use href="#st" transform="translate(82.73 419.5) scale(9.21)"/>
<use href="#st" transform="translate(89.48 419.5) scale(9.21)"/>
<use href="#st" transform="translate(96.23 419.5) scale(9.21)"/>
<polyline points="110.95,484.61 110.95,404.6 120.25,404.6 120.25,431.84" fill="none" stroke="#2a2a2a" stroke-width="0.8"/>
<use href="#st" transform="translate(105.18 400.5) scale(9.21)"/>
<use href="#st" transform="translate(111.93 400.5) scale(9.21)"/>
<use href="#st" transform="translate(118.68 400.5) scale(9.21)"/>
<use href="#st" transform="translate(125.43 400.5) scale(9.21)"/>
<polyline points="140.15,481.9 140.15,423.6 149.45,423.6 149.45,430.1" fill="none" stroke="#2a2a2a" stroke-width="0.8"/>
<use href="#st" transform="translate(134.38 419.5) scale(9.21)"/>
<use href="#st" transform="translate(141.12 419.5) scale(9.21)"/>
<use href="#st" transform="translate(147.88 419.5) scale(9.21)"/>
<use href="#st" transform="translate(154.62 419.5) scale(9.21)"/>
<polyline points="169.35,497.17 169.35,404.6 178.65,404.6 178.65,439.18" fill="none" stroke="#2a2a2a" stroke-width="0.8"/>
<use href="#st" transform="translate(163.57 400.5) scale(9.21)"/>
<use href="#st" transform="translate(170.32 400.5) scale(9.21)"/>
<use href="#st" transform="translate(177.07 400.5) scale(9.21)"/>
<use href="#st" transform="translate(183.82 400.5) scale(9.21)"/>
<polyline points="198.55,515.92 198.55,423.6 207.85,423.6 207.85,459.48" fill="none" stroke="#2a2a2a" stroke-width="0.8"/>
<use href="#st" transform="translate(192.77 419.5) scale(9.21)"/>
<use href="#st" transform="translate(199.52 419.5) scale(9.21)"/>
<use href="#st" transform="translate(206.27 419.5) scale(9.21)"/>
<use href="#st" transform="translate(213.02 419.5) scale(9.21)"/>
<polyline points="227.75,517.86 227.75,404.6 237.05,404.6 237.05,482.68" fill="none" stroke="#2a2a2a" stroke-width="0.8"/>
<use href="#st" transform="translate(221.97 400.5) scale(9.21)"/>
<use href="#st" transform="translate(228.72 400.5) scale(9.21)"/>
<use href="#st" transform="translate(235.47 400.5) scale(9.21)"/>
<use href="#st" transform="translate(242.22 400.5) scale(9.21)"/>
<text x="0" y="0" font-size="11.55" font-weight="bold" fill="#1a1a1a" transform="translate(40.69 545.04) rotate(-90)">Mean survival (hours)</text>
<text x="0" y="0" font-size="11.55" font-weight="bold" fill="#1a1a1a" transform="translate(54.41 529.26) rotate(-90)">440 µM Juglone</text>
<rect x="255.4" y="433.2" width="12.5" height="5.5" fill="#cfe2f6" stroke="#333" stroke-width="0.8"/>
<text x="274.6" y="438.7" font-size="9.9" fill="#222">Control</text>
<rect x="255.4" y="448.7" width="12.5" height="5.6" fill="#f2777f" stroke="#333" stroke-width="0.8"/>
<text x="274.6" y="453.8" font-size="9.9" fill="#222">Cyrene (1%)</text>
</g>
<g>
<text x="0" y="0" font-size="20.3" font-weight="bold" fill="#000" stroke="#000" stroke-width="0.35" transform="translate(355.14 402.5) scale(1 1.065)">F</text>
<rect x="409.2" y="485.73" width="9.6" height="59.57" fill="#cfe2f6" stroke="#111" stroke-width="0.75"/>
<rect x="418.8" y="486.17" width="9.6" height="59.13" fill="#f2777f" stroke="#111" stroke-width="0.75"/>
<line x1="414" y1="485.73" x2="414" y2="485" stroke="#222" stroke-width="0.8"/>
<line x1="411.7" y1="485" x2="416.3" y2="485" stroke="#222" stroke-width="0.8"/>
<line x1="423.6" y1="486.17" x2="423.6" y2="485.44" stroke="#222" stroke-width="0.8"/>
<line x1="421.3" y1="485.44" x2="425.9" y2="485.44" stroke="#222" stroke-width="0.8"/>
<rect x="438.4" y="465.88" width="9.6" height="79.42" fill="#cfe2f6" stroke="#111" stroke-width="0.75"/>
<rect x="448" y="466.46" width="9.6" height="78.84" fill="#f2777f" stroke="#111" stroke-width="0.75"/>
<line x1="443.2" y1="465.88" x2="443.2" y2="464.71" stroke="#222" stroke-width="0.8"/>
<line x1="440.9" y1="464.71" x2="445.5" y2="464.71" stroke="#222" stroke-width="0.8"/>
<line x1="452.8" y1="466.46" x2="452.8" y2="465" stroke="#222" stroke-width="0.8"/>
<line x1="450.5" y1="465" x2="455.1" y2="465" stroke="#222" stroke-width="0.8"/>
<rect x="467.6" y="463.54" width="9.6" height="81.76" fill="#cfe2f6" stroke="#111" stroke-width="0.75"/>
<rect x="477.2" y="454.34" width="9.6" height="90.96" fill="#f2777f" stroke="#111" stroke-width="0.75"/>
<line x1="472.4" y1="463.54" x2="472.4" y2="462.66" stroke="#222" stroke-width="0.8"/>
<line x1="470.1" y1="462.66" x2="474.7" y2="462.66" stroke="#222" stroke-width="0.8"/>
<line x1="482" y1="454.34" x2="482" y2="453.03" stroke="#222" stroke-width="0.8"/>
<line x1="479.7" y1="453.03" x2="484.3" y2="453.03" stroke="#222" stroke-width="0.8"/>
<rect x="496.8" y="462.37" width="9.6" height="82.93" fill="#cfe2f6" stroke="#111" stroke-width="0.75"/>
<rect x="506.4" y="438.87" width="9.6" height="106.43" fill="#f2777f" stroke="#111" stroke-width="0.75"/>
<line x1="501.6" y1="462.37" x2="501.6" y2="460.91" stroke="#222" stroke-width="0.8"/>
<line x1="499.3" y1="460.91" x2="503.9" y2="460.91" stroke="#222" stroke-width="0.8"/>
<line x1="511.2" y1="438.87" x2="511.2" y2="436.97" stroke="#222" stroke-width="0.8"/>
<line x1="508.9" y1="436.97" x2="513.5" y2="436.97" stroke="#222" stroke-width="0.8"/>
<rect x="526" y="489.24" width="9.6" height="56.06" fill="#cfe2f6" stroke="#111" stroke-width="0.75"/>
<rect x="535.6" y="439.74" width="9.6" height="105.56" fill="#f2777f" stroke="#111" stroke-width="0.75"/>
<line x1="530.8" y1="489.24" x2="530.8" y2="487.63" stroke="#222" stroke-width="0.8"/>
<line x1="528.5" y1="487.63" x2="533.1" y2="487.63" stroke="#222" stroke-width="0.8"/>
<line x1="540.4" y1="439.74" x2="540.4" y2="438.72" stroke="#222" stroke-width="0.8"/>
<line x1="538.1" y1="438.72" x2="542.7" y2="438.72" stroke="#222" stroke-width="0.8"/>
<rect x="555.2" y="508.8" width="9.6" height="36.5" fill="#cfe2f6" stroke="#111" stroke-width="0.75"/>
<rect x="564.8" y="452.15" width="9.6" height="93.15" fill="#f2777f" stroke="#111" stroke-width="0.75"/>
<line x1="560" y1="508.8" x2="560" y2="507.63" stroke="#222" stroke-width="0.8"/>
<line x1="557.7" y1="507.63" x2="562.3" y2="507.63" stroke="#222" stroke-width="0.8"/>
<line x1="569.6" y1="452.15" x2="569.6" y2="450.4" stroke="#222" stroke-width="0.8"/>
<line x1="567.3" y1="450.4" x2="571.9" y2="450.4" stroke="#222" stroke-width="0.8"/>
<text x="416.81" y="543.21" font-size="8.15" fill="#222" transform="rotate(-90 416.81 543.21)">322</text>
<text x="426.41" y="543.21" font-size="8.15" fill="#222" transform="rotate(-90 426.41 543.21)">312</text>
<text x="446.01" y="543.31" font-size="8.15" fill="#222" transform="rotate(-90 446.01 543.31)">273</text>
<text x="455.61" y="543.21" font-size="8.15" fill="#222" transform="rotate(-90 455.61 543.21)">326</text>
<text x="475.21" y="543.21" font-size="8.15" fill="#222" transform="rotate(-90 475.21 543.21)">347</text>
<text x="484.81" y="543.21" font-size="8.15" fill="#222" transform="rotate(-90 484.81 543.21)">353</text>
<text x="504.41" y="543.21" font-size="8.15" fill="#222" transform="rotate(-90 504.41 543.21)">335</text>
<text x="514.01" y="543.21" font-size="8.15" fill="#222" transform="rotate(-90 514.01 543.21)">383</text>
<text x="533.61" y="543.09" font-size="8.15" fill="#222" transform="rotate(-90 533.61 543.09)">473</text>
<text x="543.21" y="543.09" font-size="8.15" fill="#222" transform="rotate(-90 543.21 543.09)">430</text>
<text x="562.81" y="543.23" font-size="8.15" fill="#222" transform="rotate(-90 562.81 543.23)">585</text>
<text x="572.41" y="543.23" font-size="8.15" fill="#222" transform="rotate(-90 572.41 543.23)">581</text>
<line x1="404.4" y1="428.5" x2="404.4" y2="545.92" stroke="#1a1a1a" stroke-width="1.25"/>
<line x1="403.77" y1="545.3" x2="579.9" y2="545.3" stroke="#1a1a1a" stroke-width="1.25"/>
<line x1="399.2" y1="545.3" x2="404.4" y2="545.3" stroke="#1a1a1a" stroke-width="1.25"/>
<text x="397.75" y="548.26" font-size="8.6" font-weight="bold" text-anchor="end" fill="#1a1a1a">0</text>
<line x1="399.2" y1="516.1" x2="404.4" y2="516.1" stroke="#1a1a1a" stroke-width="1.25"/>
<text x="397.74" y="519.1" font-size="8.6" font-weight="bold" text-anchor="end" fill="#1a1a1a">2</text>
<line x1="399.2" y1="486.9" x2="404.4" y2="486.9" stroke="#1a1a1a" stroke-width="1.25"/>
<text x="397.45" y="489.86" font-size="8.6" font-weight="bold" text-anchor="end" fill="#1a1a1a">4</text>
<line x1="399.2" y1="457.7" x2="404.4" y2="457.7" stroke="#1a1a1a" stroke-width="1.25"/>
<text x="397.71" y="460.66" font-size="8.6" font-weight="bold" text-anchor="end" fill="#1a1a1a">6</text>
<line x1="399.2" y1="428.5" x2="404.4" y2="428.5" stroke="#1a1a1a" stroke-width="1.25"/>
<text x="397.66" y="431.46" font-size="8.6" font-weight="bold" text-anchor="end" fill="#1a1a1a">8</text>
<line x1="401.54" y1="530.7" x2="404.4" y2="530.7" stroke="#1a1a1a" stroke-width="1.25"/>
<line x1="401.54" y1="501.5" x2="404.4" y2="501.5" stroke="#1a1a1a" stroke-width="1.25"/>
<line x1="401.54" y1="472.3" x2="404.4" y2="472.3" stroke="#1a1a1a" stroke-width="1.25"/>
<line x1="401.54" y1="443.1" x2="404.4" y2="443.1" stroke="#1a1a1a" stroke-width="1.25"/>
<line x1="418.8" y1="545.3" x2="418.8" y2="550.5" stroke="#1a1a1a" stroke-width="1.25"/>
<text x="418.23" y="558.16" font-size="9.1" font-weight="bold" text-anchor="end" fill="#1a1a1a" transform="rotate(-45 418.23 558.16)">Young</text>
<text x="427.23" y="567.74" font-size="9.1" font-weight="bold" text-anchor="end" fill="#1a1a1a" transform="rotate(-45 427.23 567.74)">adults</text>
<line x1="448" y1="545.3" x2="448" y2="550.5" stroke="#1a1a1a" stroke-width="1.25"/>
<text x="450.87" y="557.68" font-size="9.1" font-weight="bold" text-anchor="end" fill="#1a1a1a" transform="rotate(-45 450.87 557.68)">Day 3</text>
<line x1="477.2" y1="545.3" x2="477.2" y2="550.5" stroke="#1a1a1a" stroke-width="1.25"/>
<text x="480.07" y="557.68" font-size="9.1" font-weight="bold" text-anchor="end" fill="#1a1a1a" transform="rotate(-45 480.07 557.68)">Day 5</text>
<line x1="506.4" y1="545.3" x2="506.4" y2="550.5" stroke="#1a1a1a" stroke-width="1.25"/>
<text x="509.27" y="557.68" font-size="9.1" font-weight="bold" text-anchor="end" fill="#1a1a1a" transform="rotate(-45 509.27 557.68)">Day 7</text>
<line x1="535.6" y1="545.3" x2="535.6" y2="550.5" stroke="#1a1a1a" stroke-width="1.25"/>
<text x="538.47" y="557.68" font-size="9.1" font-weight="bold" text-anchor="end" fill="#1a1a1a" transform="rotate(-45 538.47 557.68)">Day 9</text>
<line x1="564.8" y1="545.3" x2="564.8" y2="550.5" stroke="#1a1a1a" stroke-width="1.25"/>
<text x="567.67" y="557.68" font-size="9.1" font-weight="bold" text-anchor="end" fill="#1a1a1a" transform="rotate(-45 567.67 557.68)">Day 11</text>
<polyline points="414,477.7 414,423.6 423.6,423.6 423.6,478.14" fill="none" stroke="#2a2a2a" stroke-width="0.8"/>
<text x="0" y="0" font-size="9.04" text-anchor="middle" fill="#111" stroke="#111" stroke-width="0.15" transform="translate(418.5 421.4) scale(1 1.15)">ns</text>
<polyline points="443.2,457.41 443.2,423.6 452.8,423.6 452.8,457.7" fill="none" stroke="#2a2a2a" stroke-width="0.8"/>
<text x="0" y="0" font-size="9.04" text-anchor="middle" fill="#111" stroke="#111" stroke-width="0.15" transform="translate(447.7 421.4) scale(1 1.15)">ns</text>
<polyline points="472.4,455.36 472.4,423.6 482,423.6 482,445.73" fill="none" stroke="#2a2a2a" stroke-width="0.8"/>
<use href="#st" transform="translate(466.77 419.5) scale(8.95)"/>
<use href="#st" transform="translate(473.52 419.5) scale(8.95)"/>
<use href="#st" transform="translate(480.27 419.5) scale(8.95)"/>
<use href="#st" transform="translate(487.02 419.5) scale(8.95)"/>
<polyline points="501.6,453.61 501.6,402.9 511.2,402.9 511.2,429.67" fill="none" stroke="#2a2a2a" stroke-width="0.8"/>
<use href="#st" transform="translate(495.97 398.8) scale(8.95)"/>
<use href="#st" transform="translate(502.72 398.8) scale(8.95)"/>
<use href="#st" transform="translate(509.47 398.8) scale(8.95)"/>
<use href="#st" transform="translate(516.22 398.8) scale(8.95)"/>
<polyline points="530.8,480.33 530.8,423.6 540.4,423.6 540.4,431.42" fill="none" stroke="#2a2a2a" stroke-width="0.8"/>
<use href="#st" transform="translate(525.18 419.5) scale(8.95)"/>
<use href="#st" transform="translate(531.93 419.5) scale(8.95)"/>
<use href="#st" transform="translate(538.68 419.5) scale(8.95)"/>
<use href="#st" transform="translate(545.43 419.5) scale(8.95)"/>
<polyline points="560,500.33 560,402.9 569.6,402.9 569.6,443.1" fill="none" stroke="#2a2a2a" stroke-width="0.8"/>
<use href="#st" transform="translate(554.38 398.8) scale(8.95)"/>
<use href="#st" transform="translate(561.12 398.8) scale(8.95)"/>
<use href="#st" transform="translate(567.88 398.8) scale(8.95)"/>
<use href="#st" transform="translate(574.62 398.8) scale(8.95)"/>
<text x="0" y="0" font-size="11.22" font-weight="bold" fill="#1a1a1a" transform="translate(373.55 542.03) rotate(-90)">Mean survival (days)</text>
<text x="0" y="0" font-size="11.22" font-weight="bold" fill="#1a1a1a" transform="translate(388.01 543.39) rotate(-90)">After UV-C irradiation</text>
<rect x="587.9" y="433.9" width="12.6" height="5.5" fill="#cfe2f6" stroke="#333" stroke-width="0.8"/>
<text x="607" y="439.4" font-size="9.93" fill="#222">Control</text>
<rect x="587.9" y="449.4" width="12.6" height="6" fill="#f2777f" stroke="#333" stroke-width="0.8"/>
<text x="607" y="454.9" font-size="9.93" fill="#222">Cyrene (1%)</text>
</g>
<g>
<text x="0" y="0" font-size="20.3" font-weight="bold" fill="#000" stroke="#000" stroke-width="0.35" transform="translate(7.37 585.29) scale(1 1.065)">G</text>
<rect x="78.8" y="688.73" width="13.4" height="46.67" fill="#cfe2f6" stroke="#111" stroke-width="0.75"/>
<rect x="92.2" y="662.38" width="13.4" height="73.02" fill="#f2777f" stroke="#111" stroke-width="0.75"/>
<line x1="85.5" y1="688.73" x2="85.5" y2="688.32" stroke="#222" stroke-width="0.8"/>
<line x1="82.28" y1="688.32" x2="88.72" y2="688.32" stroke="#222" stroke-width="0.8"/>
<line x1="98.9" y1="662.38" x2="98.9" y2="662.05" stroke="#222" stroke-width="0.8"/>
<line x1="95.68" y1="662.05" x2="102.12" y2="662.05" stroke="#222" stroke-width="0.8"/>
<rect x="120.2" y="644.54" width="13.4" height="90.86" fill="#cfe2f6" stroke="#111" stroke-width="0.75"/>
<rect x="133.6" y="626.37" width="13.4" height="109.03" fill="#f2777f" stroke="#111" stroke-width="0.75"/>
<line x1="126.9" y1="644.54" x2="126.9" y2="643.3" stroke="#222" stroke-width="0.8"/>
<line x1="123.68" y1="643.3" x2="130.12" y2="643.3" stroke="#222" stroke-width="0.8"/>
<line x1="140.3" y1="626.37" x2="140.3" y2="625.54" stroke="#222" stroke-width="0.8"/>
<line x1="137.08" y1="625.54" x2="143.52" y2="625.54" stroke="#222" stroke-width="0.8"/>
<text x="89.18" y="733.12" font-size="10.7" fill="#222" transform="rotate(-90 89.18 733.12)">1467</text>
<text x="102.58" y="733.12" font-size="10.7" fill="#222" transform="rotate(-90 102.58 733.12)">1845</text>
<text x="130.58" y="733.12" font-size="10.7" fill="#222" transform="rotate(-90 130.58 733.12)">1109</text>
<text x="143.98" y="733.12" font-size="10.7" fill="#222" transform="rotate(-90 143.98 733.12)">1639</text>
<line x1="71.2" y1="611.5" x2="71.2" y2="736.02" stroke="#1a1a1a" stroke-width="1.25"/>
<line x1="70.58" y1="735.4" x2="154.7" y2="735.4" stroke="#1a1a1a" stroke-width="1.25"/>
<line x1="66.2" y1="735.4" x2="71.2" y2="735.4" stroke="#1a1a1a" stroke-width="1.25"/>
<text x="65.41" y="738.84" font-size="10" font-weight="bold" text-anchor="end" fill="#1a1a1a">0</text>
<line x1="66.2" y1="694.1" x2="71.2" y2="694.1" stroke="#1a1a1a" stroke-width="1.25"/>
<text x="65.28" y="697.49" font-size="10" font-weight="bold" text-anchor="end" fill="#1a1a1a">5</text>
<line x1="66.2" y1="652.8" x2="71.2" y2="652.8" stroke="#1a1a1a" stroke-width="1.25"/>
<text x="65.41" y="656.24" font-size="10" font-weight="bold" text-anchor="end" fill="#1a1a1a">10</text>
<line x1="66.2" y1="611.5" x2="71.2" y2="611.5" stroke="#1a1a1a" stroke-width="1.25"/>
<text x="65.28" y="614.89" font-size="10" font-weight="bold" text-anchor="end" fill="#1a1a1a">15</text>
<line x1="68.45" y1="714.75" x2="71.2" y2="714.75" stroke="#1a1a1a" stroke-width="1.25"/>
<line x1="68.45" y1="673.45" x2="71.2" y2="673.45" stroke="#1a1a1a" stroke-width="1.25"/>
<line x1="68.45" y1="632.15" x2="71.2" y2="632.15" stroke="#1a1a1a" stroke-width="1.25"/>
<line x1="92.2" y1="735.4" x2="92.2" y2="740.7" stroke="#1a1a1a" stroke-width="1.25"/>
<text x="91.59" y="748.83" font-size="9.65" font-weight="bold" text-anchor="end" fill="#1a1a1a" transform="rotate(-45 91.59 748.83)">Young</text>
<text x="101.14" y="758.98" font-size="9.65" font-weight="bold" text-anchor="end" fill="#1a1a1a" transform="rotate(-45 101.14 758.98)">adults</text>
<line x1="133.6" y1="735.4" x2="133.6" y2="740.7" stroke="#1a1a1a" stroke-width="1.25"/>
<text x="136.65" y="748.32" font-size="9.65" font-weight="bold" text-anchor="end" fill="#1a1a1a" transform="rotate(-45 136.65 748.32)">Day 8</text>
<polyline points="85.5,681.02 85.5,610.9 98.9,610.9 98.9,654.75" fill="none" stroke="#2a2a2a" stroke-width="0.8"/>
<use href="#st" transform="translate(81.78 606.8) scale(9.55)"/>
<use href="#st" transform="translate(88.53 606.8) scale(9.55)"/>
<use href="#st" transform="translate(95.28 606.8) scale(9.55)"/>
<use href="#st" transform="translate(102.03 606.8) scale(9.55)"/>
<polyline points="126.9,636 126.9,610.9 140.3,610.9 140.3,618.24" fill="none" stroke="#2a2a2a" stroke-width="0.8"/>
<use href="#st" transform="translate(123.17 606.8) scale(9.55)"/>
<use href="#st" transform="translate(129.92 606.8) scale(9.55)"/>
<use href="#st" transform="translate(136.67 606.8) scale(9.55)"/>
<use href="#st" transform="translate(143.42 606.8) scale(9.55)"/>
<text x="0" y="0" font-size="11.98" font-weight="bold" fill="#1a1a1a" transform="translate(33.5 731.58) rotate(-90)">Mean survival (days)</text>
<text x="0" y="0" font-size="11.98" font-weight="bold" fill="#1a1a1a" transform="translate(48.37 707.81) rotate(-90)">2.5 mM DTT</text>
<rect x="156.1" y="610.3" width="12.8" height="6.2" fill="#cfe2f6" stroke="#333" stroke-width="0.8"/>
<text x="176.36" y="616.5" font-size="10.6" fill="#222">Control</text>
<rect x="156.1" y="627.2" width="12.8" height="5.9" fill="#f2777f" stroke="#333" stroke-width="0.8"/>
<text x="176.36" y="632.6" font-size="10.6" fill="#222">Cyrene (1%)</text>
</g>
<g>
<text x="0" y="0" font-size="20.3" font-weight="bold" fill="#000" stroke="#000" stroke-width="0.35" transform="translate(348.74 584) scale(1 1.065)">H</text>
<rect x="410.9" y="666.63" width="13.6" height="67.97" fill="#cfe2f6" stroke="#111" stroke-width="0.75"/>
<rect x="424.5" y="658.54" width="13.6" height="76.06" fill="#f2777f" stroke="#111" stroke-width="0.75"/>
<line x1="417.7" y1="666.63" x2="417.7" y2="666.12" stroke="#222" stroke-width="0.8"/>
<line x1="414.44" y1="666.12" x2="420.96" y2="666.12" stroke="#222" stroke-width="0.8"/>
<line x1="431.3" y1="658.54" x2="431.3" y2="658.16" stroke="#222" stroke-width="0.8"/>
<line x1="428.04" y1="658.16" x2="434.56" y2="658.16" stroke="#222" stroke-width="0.8"/>
<rect x="453" y="651.92" width="13.6" height="82.68" fill="#cfe2f6" stroke="#111" stroke-width="0.75"/>
<rect x="466.6" y="633.32" width="13.6" height="101.28" fill="#f2777f" stroke="#111" stroke-width="0.75"/>
<line x1="459.8" y1="651.92" x2="459.8" y2="650.83" stroke="#222" stroke-width="0.8"/>
<line x1="456.54" y1="650.83" x2="463.06" y2="650.83" stroke="#222" stroke-width="0.8"/>
<line x1="473.4" y1="633.32" x2="473.4" y2="632.68" stroke="#222" stroke-width="0.8"/>
<line x1="470.14" y1="632.68" x2="476.66" y2="632.68" stroke="#222" stroke-width="0.8"/>
<text x="421.21" y="732.01" font-size="10.2" fill="#222" transform="rotate(-90 421.21 732.01)">2021</text>
<text x="434.81" y="732.28" font-size="10.2" fill="#222" transform="rotate(-90 434.81 732.28)">1773</text>
<text x="463.31" y="732.28" font-size="10.2" fill="#222" transform="rotate(-90 463.31 732.28)">1133</text>
<text x="476.91" y="732.28" font-size="10.2" fill="#222" transform="rotate(-90 476.91 732.28)">1666</text>
<line x1="403.5" y1="607.2" x2="403.5" y2="735.23" stroke="#1a1a1a" stroke-width="1.25"/>
<line x1="402.88" y1="734.6" x2="488.6" y2="734.6" stroke="#1a1a1a" stroke-width="1.25"/>
<line x1="398.3" y1="734.6" x2="403.5" y2="734.6" stroke="#1a1a1a" stroke-width="1.25"/>
<text x="396.48" y="737.78" font-size="9.25" font-weight="bold" text-anchor="end" fill="#1a1a1a">0</text>
<line x1="398.3" y1="702.75" x2="403.5" y2="702.75" stroke="#1a1a1a" stroke-width="1.25"/>
<text x="396.36" y="705.89" font-size="9.25" font-weight="bold" text-anchor="end" fill="#1a1a1a">5</text>
<line x1="398.3" y1="670.9" x2="403.5" y2="670.9" stroke="#1a1a1a" stroke-width="1.25"/>
<text x="396.48" y="674.08" font-size="9.25" font-weight="bold" text-anchor="end" fill="#1a1a1a">10</text>
<line x1="398.3" y1="639.05" x2="403.5" y2="639.05" stroke="#1a1a1a" stroke-width="1.25"/>
<text x="396.36" y="642.19" font-size="9.25" font-weight="bold" text-anchor="end" fill="#1a1a1a">15</text>
<line x1="398.3" y1="607.2" x2="403.5" y2="607.2" stroke="#1a1a1a" stroke-width="1.25"/>
<text x="396.48" y="610.38" font-size="9.25" font-weight="bold" text-anchor="end" fill="#1a1a1a">20</text>
<line x1="400.64" y1="718.68" x2="403.5" y2="718.68" stroke="#1a1a1a" stroke-width="1.25"/>
<line x1="400.64" y1="686.83" x2="403.5" y2="686.83" stroke="#1a1a1a" stroke-width="1.25"/>
<line x1="400.64" y1="654.98" x2="403.5" y2="654.98" stroke="#1a1a1a" stroke-width="1.25"/>
<line x1="400.64" y1="623.12" x2="403.5" y2="623.12" stroke="#1a1a1a" stroke-width="1.25"/>
<line x1="424.5" y1="734.6" x2="424.5" y2="739.4" stroke="#1a1a1a" stroke-width="1.25"/>
<text x="421.79" y="749.51" font-size="9.9" font-weight="bold" text-anchor="end" fill="#1a1a1a" transform="rotate(-45 421.79 749.51)">Young</text>
<text x="433.67" y="758.16" font-size="9.9" font-weight="bold" text-anchor="end" fill="#1a1a1a" transform="rotate(-45 433.67 758.16)">adults</text>
<line x1="466.6" y1="734.6" x2="466.6" y2="739.4" stroke="#1a1a1a" stroke-width="1.25"/>
<text x="469.73" y="747.22" font-size="9.9" font-weight="bold" text-anchor="end" fill="#1a1a1a" transform="rotate(-45 469.73 747.22)">Day 8</text>
<polyline points="417.7,658.82 417.7,617.9 431.3,617.9 431.3,650.86" fill="none" stroke="#2a2a2a" stroke-width="0.8"/>
<use href="#st" transform="translate(414.07 613.8) scale(9.9)"/>
<use href="#st" transform="translate(420.82 613.8) scale(9.9)"/>
<use href="#st" transform="translate(427.57 613.8) scale(9.9)"/>
<use href="#st" transform="translate(434.32 613.8) scale(9.9)"/>
<polyline points="459.8,643.53 459.8,617.9 473.4,617.9 473.4,625.38" fill="none" stroke="#2a2a2a" stroke-width="0.8"/>
<use href="#st" transform="translate(456.18 613.8) scale(9.9)"/>
<use href="#st" transform="translate(462.93 613.8) scale(9.9)"/>
<use href="#st" transform="translate(469.68 613.8) scale(9.9)"/>
<use href="#st" transform="translate(476.43 613.8) scale(9.9)"/>
<text x="0" y="0" font-size="12.41" font-weight="bold" fill="#1a1a1a" transform="translate(365.66 731.75) rotate(-90)">Mean survival (days)</text>
<text x="0" y="0" font-size="12.41" font-weight="bold" fill="#1a1a1a" transform="translate(379.03 737.11) rotate(-90)">25 µg/mL Tunicamycin</text>
<rect x="493" y="606.4" width="13.8" height="6.5" fill="#cfe2f6" stroke="#333" stroke-width="0.8"/>
<text x="513.85" y="612.9" font-size="10.8" fill="#222">Control</text>
<rect x="493" y="623" width="13.8" height="6.8" fill="#f2777f" stroke="#333" stroke-width="0.8"/>
<text x="513.85" y="629.3" font-size="10.8" fill="#222">Cyrene (1%)</text>
</g>
</svg>
</body></html>
